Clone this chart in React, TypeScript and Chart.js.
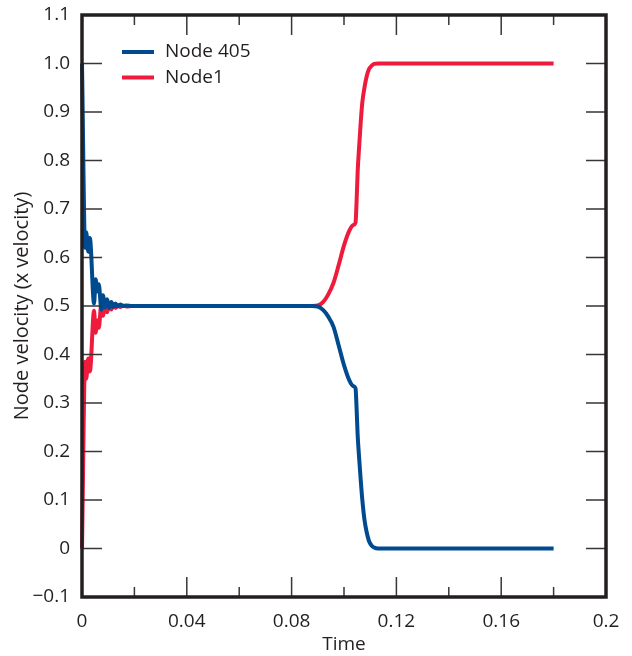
import React, { useEffect, useRef } from 'react';
import { Chart, registerables } from 'chart.js';

Chart.register(...registerables);

const TIME = [
  0, 0.0012, 0.0016, 0.0024, 0.003, 0.0046, 0.0052, 0.0058, 0.0064, 0.0074, 0.008,
  0.0088, 0.0096, 0.0104, 0.0112, 0.012, 0.0128, 0.0136, 0.0146, 0.0156, 0.017, 0.019,
  0.03, 0.05, 0.07, 0.088,
  0.09, 0.092, 0.094, 0.096, 0.098, 0.1, 0.102, 0.1035, 0.1044, 0.1048, 0.1052, 0.1058,
  0.1064, 0.107, 0.1078, 0.1086, 0.1095, 0.1105, 0.1115, 0.113,
  0.12, 0.14, 0.16, 0.18,
];

const NODE_405 = [
  1.0, 0.62, 0.652, 0.612, 0.64, 0.505, 0.555, 0.53, 0.545, 0.493, 0.522,
  0.497, 0.514, 0.496, 0.508, 0.498, 0.505, 0.499, 0.503, 0.5, 0.501, 0.5,
  0.5, 0.5, 0.5, 0.5,
  0.499, 0.492, 0.478, 0.457, 0.418, 0.378, 0.347, 0.335, 0.33, 0.29, 0.235, 0.185,
  0.14, 0.1, 0.06, 0.035, 0.016, 0.006, 0.002, 0.0,
  0, 0, 0, 0,
];

const NODE_1 = [
  0.0, 0.385, 0.35, 0.392, 0.365, 0.49, 0.445, 0.47, 0.455, 0.505, 0.48,
  0.503, 0.487, 0.504, 0.493, 0.503, 0.496, 0.502, 0.498, 0.501, 0.499, 0.5,
  0.5, 0.5, 0.5, 0.5,
  0.501, 0.508, 0.524, 0.548, 0.585, 0.625, 0.655, 0.667, 0.672, 0.715, 0.775, 0.83,
  0.88, 0.92, 0.95, 0.972, 0.988, 0.995, 0.999, 1.0,
  1, 1, 1, 1,
];

const SERIES_LABELS = ['Node 405', 'Node1'];
const SERIES_COLORS = ['#004a8f', '#ee1b3d'];

const X_MAJOR = [0, 0.04, 0.08, 0.12, 0.16, 0.2];
const X_MINOR = [0.02, 0.06, 0.1, 0.14, 0.18];
const Y_TICKS = [-0.1, 0, 0.1, 0.2, 0.3, 0.4, 0.5, 0.6, 0.7, 0.8, 0.9, 1.0, 1.1];

const FONT = "'Open Sans', 'Noto Sans', sans-serif";
const INK = '#231f20';

const framePlugin = {
  id: 'frameTicks',
  afterDatasetsDraw(chart: any) {
    const ctx = chart.ctx;
    const { left, right, top, bottom } = chart.chartArea;
    const xs = chart.scales.x;
    const ys = chart.scales.y;
    ctx.save();
    ctx.strokeStyle = '#3a3536';
    ctx.lineWidth = 1.5;
    ctx.beginPath();
    X_MAJOR.forEach((v) => {
      const px = xs.getPixelForValue(v);
      ctx.moveTo(px, bottom); ctx.lineTo(px, bottom - 20);
      ctx.moveTo(px, top); ctx.lineTo(px, top + 20);
    });
    X_MINOR.forEach((v) => {
      const px = xs.getPixelForValue(v);
      ctx.moveTo(px, bottom); ctx.lineTo(px, bottom - 10);
      ctx.moveTo(px, top); ctx.lineTo(px, top + 10);
    });
    Y_TICKS.forEach((v) => {
      const py = ys.getPixelForValue(v);
      ctx.moveTo(left, py); ctx.lineTo(left + 20, py);
      ctx.moveTo(right, py); ctx.lineTo(right - 20, py);
    });
    ctx.stroke();
    ctx.strokeStyle = INK;
    ctx.lineWidth = 3.5;
    ctx.strokeRect(left, top, right - left, bottom - top);

    // legend
    chart.data.datasets.forEach((ds: any, i: number) => {
      const y = 52 + i * 25.5;
      ctx.strokeStyle = ds.borderColor;
      ctx.lineWidth = 4;
      ctx.beginPath();
      ctx.moveTo(122, y);
      ctx.lineTo(154, y);
      ctx.stroke();
      ctx.fillStyle = INK;
      ctx.font = `19px ${FONT}`;
      ctx.textBaseline = 'middle';
      ctx.textAlign = 'left';
      ctx.fillText(ds.label, 165, y);
    });
    ctx.restore();
  },
};

export default function App() {
  const ref = useRef<HTMLCanvasElement | null>(null);
  useEffect(() => {
    document.body.style.margin = '0';
    const canvas = ref.current!;
    const chart = new Chart(canvas, {
      type: 'line',
      data: {
        datasets: [NODE_405, NODE_1].map((vals, i) => ({
          label: SERIES_LABELS[i],
          data: TIME.map((t, j) => ({ x: t, y: vals[j] })),
          borderColor: SERIES_COLORS[i],
          backgroundColor: SERIES_COLORS[i],
          borderWidth: 4,
          pointRadius: 0,
          cubicInterpolationMode: 'monotone',
          fill: false,
          clip: false,
        })),
      },
      options: {
        animation: false,
        responsive: false,
        devicePixelRatio: 1,
        layout: { padding: { top: 15, right: 26, bottom: 0, left: 0 } },
        plugins: { legend: { display: false }, tooltip: { enabled: false } },
        scales: {
          x: {
            type: 'linear',
            min: 0,
            max: 0.2,
            grid: { display: false, drawTicks: false },
            border: { display: false },
            ticks: {
              stepSize: 0.04,
              color: INK,
              font: { family: FONT, size: 19 },
              padding: 13,
              maxRotation: 0,
              callback: (v: any) => String(Math.round(Number(v) * 100) / 100),
            },
            title: {
              display: true,
              text: 'Time',
              color: INK,
              font: { family: FONT, size: 19 },
              padding: { top: 0, bottom: 0 },
            },
            afterFit: (s: any) => {
              s.height = 59;
              s.paddingLeft = 0;
              s.paddingRight = 0;
            },
          },
          y: {
            type: 'linear',
            min: -0.1,
            max: 1.1,
            grid: { display: false, drawTicks: false },
            border: { display: false },
            ticks: {
              stepSize: 0.1,
              color: INK,
              font: { family: FONT, size: 19 },
              padding: 12,
              callback: (v: any) => {
                const r = Math.round(Number(v) * 10) / 10;
                if (r === 0) return '0';
                if (r < 0) return '\u2212' + Math.abs(r).toFixed(1);
                return r.toFixed(1);
              },
            },
            title: {
              display: true,
              text: 'Node velocity (x velocity)',
              color: INK,
              font: { family: FONT, size: 20 },
              padding: { top: 10, bottom: 0 },
            },
            afterFit: (s: any) => {
              s.width = 82;
              s.paddingTop = 0;
              s.paddingBottom = 0;
            },
          },
        },
      },
      plugins: [framePlugin],
    } as any);
    return () => chart.destroy();
  }, []);
  return <canvas ref={ref} width={632} height={656} style={{ display: 'block' }} />;
}
